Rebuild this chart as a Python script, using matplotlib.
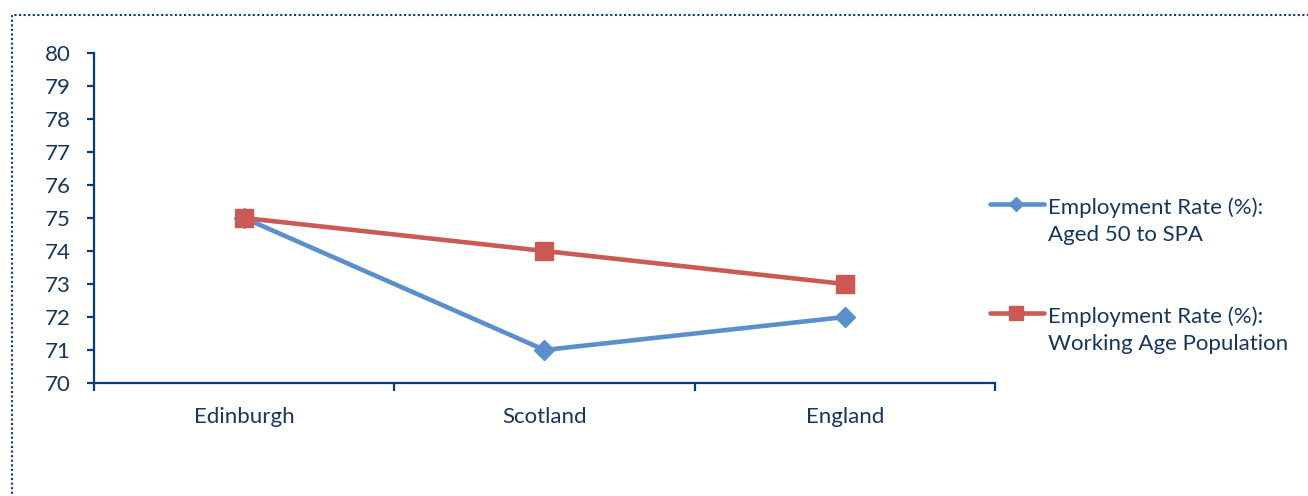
import matplotlib.pyplot as plt
from matplotlib.lines import Line2D
from matplotlib.patches import Rectangle

# data
regions = ['Edinburgh', 'Scotland', 'England']
rate_50_spa = [75, 71, 72]
rate_working_age = [75, 74, 73]
label_50_spa = 'Employment Rate (%):\nAged 50 to SPA'
label_working_age = 'Employment Rate (%):\nWorking Age Population'

blue = '#5B8FCB'
red = '#CB5A55'
navy = '#17365D'
axis_col = '#0B3B80'

plt.rcParams['font.family'] = ['Lato', 'DejaVu Sans']

fig = plt.figure(figsize=(13.08, 4.96), dpi=100)
ax = fig.add_axes([94 / 1308, 113 / 496, 901 / 1308, 330 / 496])

x = list(range(len(regions)))
ax.plot(x, rate_50_spa, color=blue, lw=3.3, marker='D', ms=10, zorder=3)
ax.plot(x, rate_working_age, color=red, lw=3.3, marker='s', ms=12.5, zorder=3)

ax.set_xlim(-0.5, len(regions) - 0.5)
ax.set_ylim(70, 80)
ax.set_yticks(range(70, 81))
ax.set_xticks(x)
ax.set_xticklabels(regions)
ax.set_xticks([i - 0.5 for i in range(len(regions) + 1)], minor=True)

for side in ['top', 'right']:
    ax.spines[side].set_visible(False)
for side in ['left', 'bottom']:
    ax.spines[side].set_color(axis_col)
    ax.spines[side].set_linewidth(1.6)

ax.tick_params(axis='y', direction='out', length=5, width=1.6, color=axis_col,
               labelcolor=navy, labelsize=16, pad=12)
ax.tick_params(axis='x', which='major', length=0, labelcolor=navy, labelsize=16, pad=17)
ax.tick_params(axis='x', which='minor', direction='out', length=6, width=1.6, color=axis_col)

# legend drawn by hand to keep the marker level with the first text line
entries = [(blue, 'D', 10, label_50_spa, 204), (red, 's', 12.5, label_working_age, 313)]
for col, mk, ms, lab, ypx in entries:
    yf = 1 - ypx / 496
    fig.add_artist(Line2D([990 / 1308, 1044 / 1308], [yf, yf], color=col, lw=3.3,
                          transform=fig.transFigure, solid_capstyle='round'))
    fig.add_artist(Line2D([1016 / 1308], [yf], color=col, marker=mk, ms=ms * 0.75,
                          transform=fig.transFigure))
    fig.text(1048 / 1308, yf + 7 / 496, lab, color=navy, fontsize=16, va='top',
             ha='left', linespacing=1.45)

# dotted frame around the chart
fig.add_artist(Rectangle((12 / 1308, -0.1), 1.2, 1 - 15 / 496 + 0.1, transform=fig.transFigure,
                         fill=False, edgecolor=axis_col, lw=1.5, linestyle=(0, (1, 1.2))))

fig.savefig('out.png', dpi=100)
